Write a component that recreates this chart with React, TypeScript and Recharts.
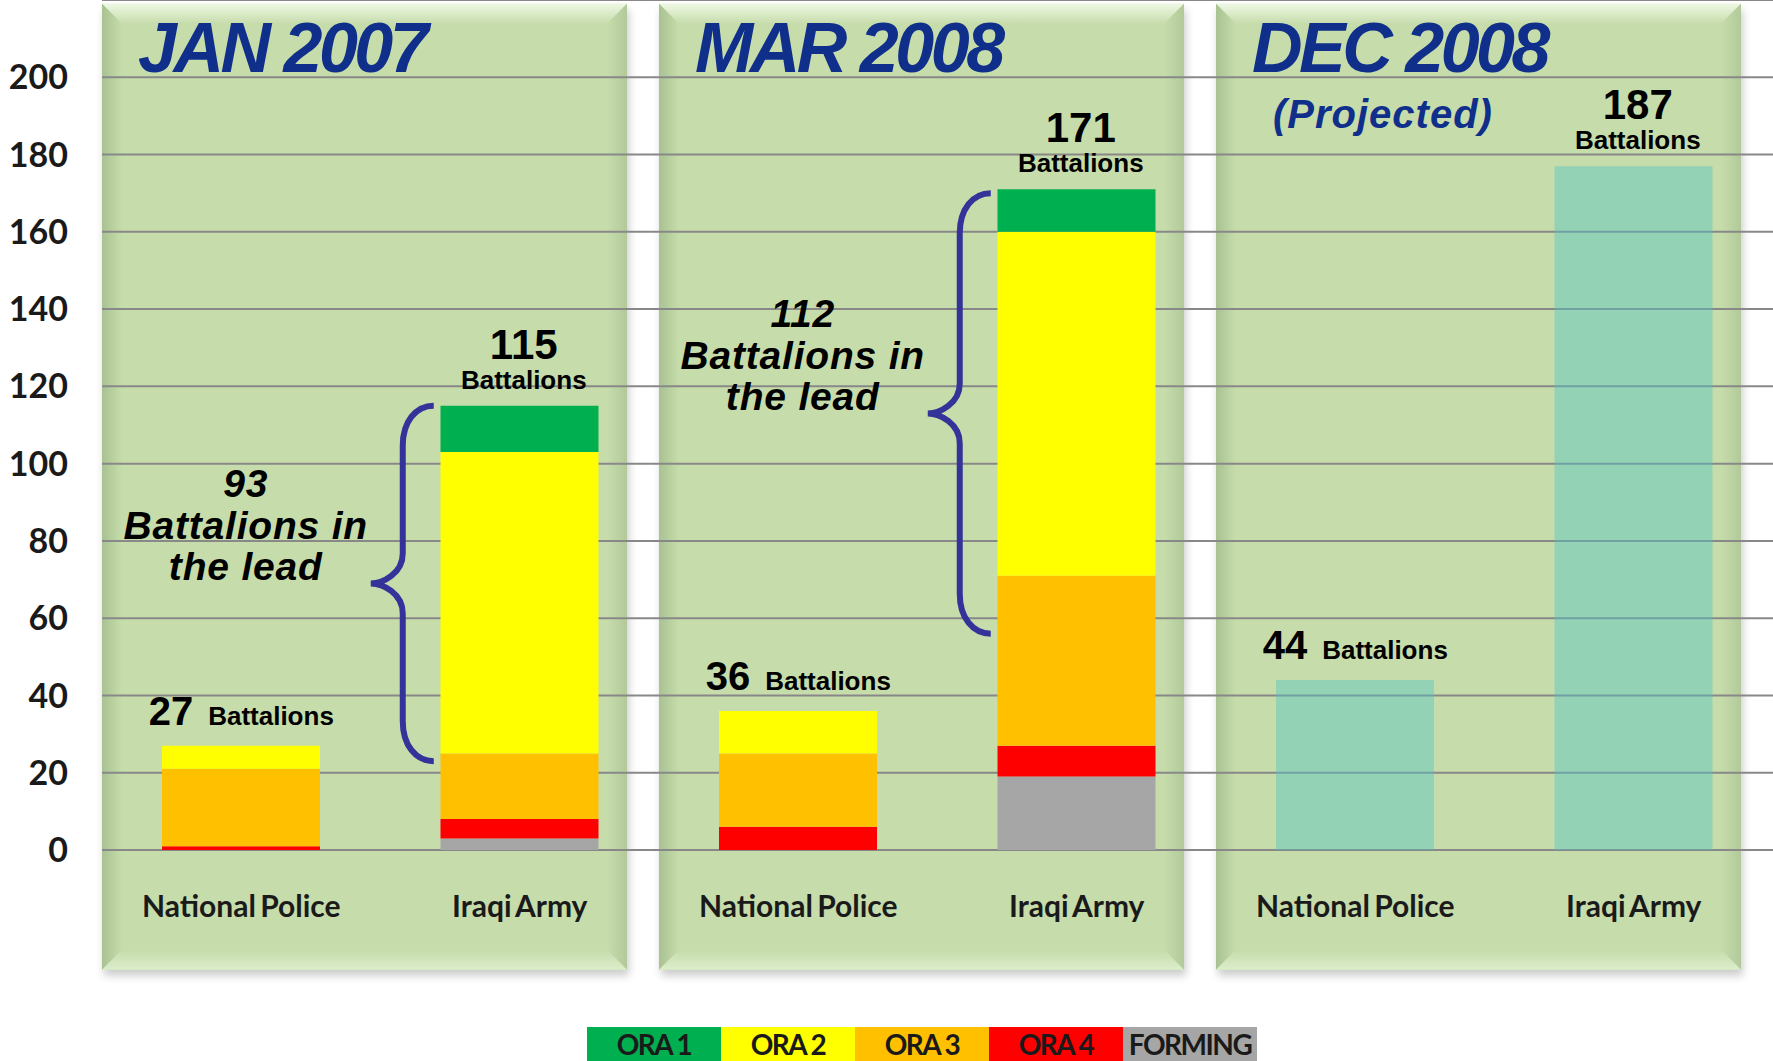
import React from 'react';
import {
  BarChart, Bar, XAxis, YAxis, CartesianGrid, ReferenceArea, ReferenceDot, Legend,
} from 'recharts';

// ── data ──────────────────────────────────────────────────────────────────────

const unitKeys = ['np-jan07', 'ia-jan07', 'np-mar08', 'ia-mar08', 'np-dec08', 'ia-dec08'];
const unitNames = ['National Police', 'Iraqi Army', 'National Police', 'Iraqi Army', 'National Police', 'Iraqi Army'];

// stacked from the bottom up
const forming = [0, 3, 0, 19, 0, 0];
const ora4 = [1, 5, 6, 8, 0, 0];
const ora3 = [20, 17, 19, 44, 0, 0];
const ora2 = [6, 78, 11, 89, 0, 0];
const ora1 = [0, 12, 0, 11, 0, 0];
const projected = [0, 0, 0, 0, 44, 177];

const totalLabels = ['27', '115', '36', '171', '44', '187'];

const periods = ['JAN 2007', 'MAR 2008', 'DEC 2008'];
const periodNotes = ['', '', '(Projected)'];

const leadUnits = ['ia-jan07', 'ia-mar08'];
const leadCounts = ['93', '112'];
const leadLow = [23, 56];
const leadHigh = [115, 170];

const yTicks = [0, 20, 40, 60, 80, 100, 120, 140, 160, 180, 200];

// ── look ──────────────────────────────────────────────────────────────────────

const W = 1773;
const H = 1061;
const BAR_SIZE = 158;
const PANEL_GAP = 32;
const PANEL_FILL = '#c6dcab';
const ARIAL = '"Liberation Sans", Arial, sans-serif';
const CALIBRI = 'Lato, "Open Sans", sans-serif';

const series = [
  { key: 'forming', name: 'FORMING', color: '#a6a6a6', values: forming },
  { key: 'ora4', name: 'ORA 4', color: '#ff0000', values: ora4 },
  { key: 'ora3', name: 'ORA 3', color: '#ffc000', values: ora3 },
  { key: 'ora2', name: 'ORA 2', color: '#ffff00', values: ora2 },
  { key: 'ora1', name: 'ORA 1', color: '#00b050', values: ora1 },
];

const rows = unitKeys.map((key, i) => {
  const row: Record<string, string | number> = { key, projected: projected[i] };
  series.forEach(s => { row[s.key] = s.values[i]; });
  return row;
});

const totals = unitKeys.map((_, i) =>
  series.reduce((sum, s) => sum + s.values[i], 0) + projected[i]);

// ── shapes ────────────────────────────────────────────────────────────────────

function PanelShape(props: any) {
  const { x, y, width, height, idx, title, note } = props;
  const w = width - PANEL_GAP;
  const h = height;
  const b = 20;
  const id = `panel${idx}`;
  return (
    <g>
      <defs>
        <linearGradient id={`${id}-t`} x1="0" y1="0" x2="0" y2="1">
          <stop offset="0" stopColor="#eef8e3" />
          <stop offset="1" stopColor={PANEL_FILL} />
        </linearGradient>
        <linearGradient id={`${id}-l`} x1="0" y1="0" x2="1" y2="0">
          <stop offset="0" stopColor="#a9c291" />
          <stop offset="1" stopColor={PANEL_FILL} />
        </linearGradient>
        <linearGradient id={`${id}-r`} x1="1" y1="0" x2="0" y2="0">
          <stop offset="0" stopColor="#b2c99a" />
          <stop offset="1" stopColor={PANEL_FILL} />
        </linearGradient>
        <linearGradient id={`${id}-b`} x1="0" y1="1" x2="0" y2="0">
          <stop offset="0" stopColor="#dcedcb" />
          <stop offset="1" stopColor={PANEL_FILL} />
        </linearGradient>
        <filter id={`${id}-s`} x="-0.1" y="-0.1" width="1.2" height="1.2">
          <feGaussianBlur stdDeviation="4" />
        </filter>
      </defs>
      <rect x={x + 2} y={y + 6} width={w} height={h} fill="#000" opacity={0.2} filter={`url(#${id}-s)`} />
      <rect x={x} y={y} width={w} height={h} fill={PANEL_FILL} />
      <polygon points={`${x},${y} ${x + w},${y} ${x + w - b},${y + b} ${x + b},${y + b}`} fill={`url(#${id}-t)`} />
      <polygon points={`${x},${y} ${x + b},${y + b} ${x + b},${y + h - b} ${x},${y + h}`} fill={`url(#${id}-l)`} />
      <polygon points={`${x + w},${y} ${x + w},${y + h} ${x + w - b},${y + h - b} ${x + w - b},${y + b}`} fill={`url(#${id}-r)`} />
      <polygon points={`${x},${y + h} ${x + b},${y + h - b} ${x + w - b},${y + h - b} ${x + w},${y + h}`} fill={`url(#${id}-b)`} />
      <text x={x + 36} y={y + 68} fontFamily={ARIAL} fontWeight={700} fontStyle="italic"
        fontSize={70} letterSpacing={-3.5} fill="#0f2f8b">{title}</text>
      {note && (
        <text x={x + 57} y={y + 124} fontFamily={ARIAL} fontWeight={700} fontStyle="italic"
          fontSize={40} letterSpacing={1} fill="#0f2f8b">{note}</text>
      )}
    </g>
  );
}

function LeadBrace(props: any) {
  const { x, y, width, height, count } = props;
  const barLeft = x + width / 2 - BAR_SIZE / 2;
  const xe = barLeft - 7;
  const xv = barLeft - 38;
  const xt = barLeft - 70;
  const yt = y;
  const yb = y + height;
  const ym = y + height / 2;
  const d = [
    `M${xe},${yt}`,
    `C${xe - 18},${yt} ${xv},${yt + 16} ${xv},${yt + 40}`,
    `L${xv},${ym - 30}`,
    `C${xv},${ym - 10} ${xt + 12},${ym} ${xt},${ym}`,
    `C${xt + 12},${ym} ${xv},${ym + 10} ${xv},${ym + 30}`,
    `L${xv},${yb - 40}`,
    `C${xv},${yb - 16} ${xe - 18},${yb} ${xe},${yb}`,
  ].join(' ');
  const tx = barLeft - 195;
  const textProps = {
    x: tx, textAnchor: 'middle' as const, fontFamily: ARIAL, fontWeight: 700,
    fontStyle: 'italic', fontSize: 39, letterSpacing: 0.8, fill: '#000',
  };
  return (
    <g>
      <path d={d} fill="none" stroke="#333399" strokeWidth={6} />
      <text {...textProps} y={ym - 86}>{count}</text>
      <text {...textProps} y={ym - 44}>Battalions in</text>
      <text {...textProps} y={ym - 3}>the lead</text>
    </g>
  );
}

function TotalLabel(props: any) {
  const { cx, cy, text, inline } = props;
  if (inline) {
    return (
      <text x={cx} y={cy - 21} textAnchor="middle" fontFamily={ARIAL} fontWeight={700} fill="#000">
        <tspan fontSize={40}>{text}</tspan>
        <tspan fontSize={26} dx={15}>Battalions</tspan>
      </text>
    );
  }
  return (
    <g>
      <text x={cx + 4} y={cy - 47} textAnchor="middle" fontFamily={ARIAL} fontWeight={700}
        fontSize={42} fill="#000">{text}</text>
      <text x={cx + 4} y={cy - 17} textAnchor="middle" fontFamily={ARIAL} fontWeight={700}
        fontSize={26} fill="#000">Battalions</text>
    </g>
  );
}

function LegendBoxes() {
  const items = [...series].reverse();
  return (
    <div style={{ display: 'flex' }}>
      {items.map(s => (
        <div key={s.key} style={{
          width: 134, height: 34, boxSizing: 'border-box', paddingTop: 0,
          background: s.color, color: '#1a1a1a', textAlign: 'center',
          fontFamily: CALIBRI, fontWeight: 700, fontSize: 28, lineHeight: '34px', letterSpacing: -1.5,
        }}>{s.name}</div>
      ))}
    </div>
  );
}

// ── chart ─────────────────────────────────────────────────────────────────────

export default function App() {
  return (
    <div style={{ width: W, height: H, overflow: 'hidden', background: '#fff' }}>
      <style>{'html,body{margin:0;padding:0;overflow:hidden;background:#fff}'}</style>
      <BarChart width={W} height={H} data={rows} margin={{ top: 0, right: 0, left: 0, bottom: 181 }}>
        {periods.map((p, i) => (
          <ReferenceArea
            key={p}
            x1={unitKeys[i * 2]}
            x2={unitKeys[i * 2 + 1]}
            y1={-31}
            y2={219}
            ifOverflow="visible"
            zIndex={-200}
            shape={(sp: any) => <PanelShape {...sp} idx={i} title={p} note={periodNotes[i]} />}
          />
        ))}
        <CartesianGrid vertical={false} stroke="#888888" strokeWidth={2} />
        <XAxis
          dataKey="key"
          interval={0}
          axisLine={false}
          tickLine={false}
          tickMargin={40}
          height={30}
          tickFormatter={(_v: string, i: number) => unitNames[i]}
          tick={{ fontFamily: CALIBRI, fontWeight: 700, fontSize: 30, fill: '#1a1a1a', style: { wordSpacing: -3 } }}
        />
        <YAxis
          domain={[0, 220]}
          ticks={yTicks}
          width={102}
          axisLine={false}
          tickLine={false}
          tickMargin={28}
          tick={{ fontFamily: CALIBRI, fontWeight: 700, fontSize: 34, fill: '#1a1a1a' }}
        />
        {series.map(s => (
          <Bar key={s.key} dataKey={s.key} name={s.name} stackId="a" fill={s.color}
            barSize={BAR_SIZE} isAnimationActive={false} />
        ))}
        <Bar dataKey="projected" name="Projected" stackId="a" fill="#4fc4c6" fillOpacity={0.42}
          barSize={BAR_SIZE} isAnimationActive={false} legendType="none" />
        {leadUnits.map((u, i) => (
          <ReferenceArea
            key={u}
            x1={u}
            x2={u}
            y1={leadLow[i]}
            y2={leadHigh[i]}
            ifOverflow="visible"
            shape={(sp: any) => <LeadBrace {...sp} count={leadCounts[i]} />}
          />
        ))}
        {unitKeys.map((u, i) => (
          <ReferenceDot
            key={u}
            x={u}
            y={totals[i]}
            r={0}
            ifOverflow="visible"
            shape={(sp: any) => (
              <TotalLabel cx={sp.cx} cy={sp.cy} text={totalLabels[i]}
                inline={unitNames[i] === 'National Police'} />
            )}
          />
        ))}
        <Legend
          layout="horizontal"
          verticalAlign="middle"
          align="center"
          wrapperStyle={{ top: 1027, left: 587, width: 670, height: 34 }}
          content={() => <LegendBoxes />}
        />
      </BarChart>
    </div>
  );
}
